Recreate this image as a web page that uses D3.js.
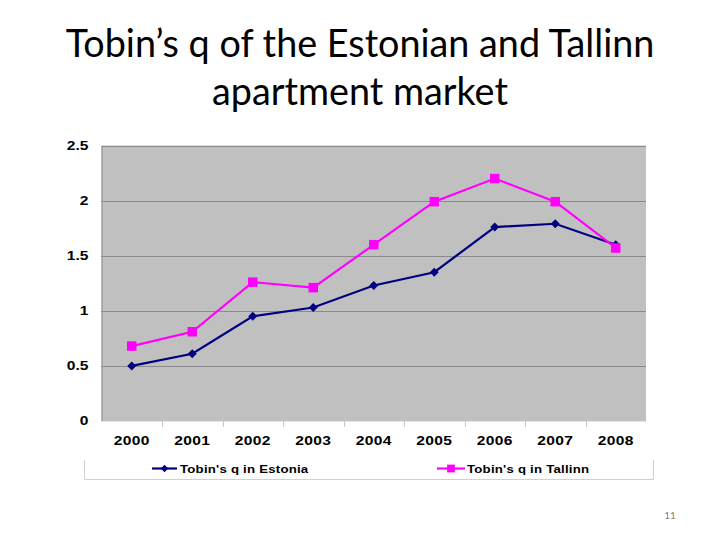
<!DOCTYPE html>
<html>
<head>
<meta charset="utf-8">
<script src="https://cdn.jsdelivr.net/npm/d3@7"></script>
<style>
  html, body { margin: 0; padding: 0; background: #fff; }
  svg { display: block; }
</style>
</head>
<body>
<svg id="chart" width="720" height="540"></svg>
<script>
const titleLines = ["Tobin\u2019s q of the Estonian and Tallinn", "apartment market"];
const years = ["2000","2001","2002","2003","2004","2005","2006","2007","2008"];
const estonia = [0.50, 0.61, 0.95, 1.03, 1.23, 1.35, 1.76, 1.79, 1.60];
const tallinn = [0.68, 0.81, 1.26, 1.21, 1.60, 1.99, 2.20, 1.99, 1.57];
const yTicks = [0, 0.5, 1, 1.5, 2, 2.5];
const seriesNames = ["Tobin's q in Estonia", "Tobin's q in Tallinn"];
const pageNumber = "11";

const svg = d3.select("#chart");
const plot = { left: 101.5, right: 646, top: 145.5, bottom: 421 };
const axisFont = "'Liberation Sans', Arial, sans-serif";
const stretch = 1.3;

// Title
const title = svg.append("g");
titleLines.forEach((t, i) => {
  title.append("text")
    .attr("x", 360).attr("y", 57 + i * 48)
    .attr("text-anchor", "middle")
    .attr("font-family", "Lato, 'Open Sans', sans-serif")
    .attr("font-size", 36)
    .attr("fill", "#000")
    .text(t);
});
const t0 = title.select("text").node();
const w0 = t0.getComputedTextLength();
title.selectAll("text").attr("font-size", 36 * 589 / w0);

const x = d3.scaleBand().domain(years).range([plot.left, plot.right]).padding(0);
const y = d3.scaleLinear().domain([0, 2.5]).range([plot.bottom, plot.top]);
const cx = d => x(d) + x.bandwidth() / 2;

// plot background
svg.append("rect")
  .attr("x", plot.left).attr("y", plot.top)
  .attr("width", plot.right - plot.left).attr("height", plot.bottom - plot.top)
  .attr("fill", "#c0c0c0");

// gridlines
svg.append("g").selectAll("line").data(yTicks.filter(v => v > 0)).join("line")
  .attr("x1", plot.left).attr("x2", plot.right)
  .attr("y1", d => Math.round(y(d)) + 0.5).attr("y2", d => Math.round(y(d)) + 0.5)
  .attr("stroke", "#8a8a8a").attr("stroke-width", 1);

// y axis
const yAxis = svg.append("g")
  .attr("transform", `translate(${plot.left},0)`)
  .call(d3.axisLeft(y).tickValues(yTicks).tickSize(0).tickPadding(0).tickFormat(d => d3.format("")(d)));
yAxis.select(".domain").attr("stroke", "#8a8a8a");
yAxis.selectAll("text")
  .attr("x", -13 / stretch)
  .attr("transform", `scale(${stretch},1)`)
  .attr("font-family", axisFont)
  .attr("font-weight", "bold").attr("font-size", 12)
  .attr("fill", "#000");

// x axis
const xAxis = svg.append("g")
  .attr("transform", `translate(0,${plot.bottom})`)
  .call(d3.axisBottom(x).tickSize(0).tickPadding(0));
xAxis.select(".domain").attr("stroke", "#e6e6e6");
xAxis.selectAll("text")
  .attr("y", 24).attr("dy", null)
  .attr("transform", `scale(${stretch},1)`)
  .attr("font-family", axisFont)
  .attr("font-weight", "bold").attr("font-size", 12)
  .attr("letter-spacing", 0.3)
  .attr("fill", "#000");
svg.append("g").selectAll("line").data(years.slice(1)).join("line")
  .attr("x1", d => Math.round(x(d)) + 0.5).attr("x2", d => Math.round(x(d)) + 0.5)
  .attr("y1", plot.bottom).attr("y2", plot.bottom + 6)
  .attr("stroke", "#c8c8c8");

// lines
const series = [
  { name: seriesNames[0], values: estonia, color: "#000080", marker: "diamond" },
  { name: seriesNames[1], values: tallinn, color: "#ff00ff", marker: "square" }
];
const line = d3.line().x((d, i) => cx(years[i])).y(d => y(d));
const diamond = d3.symbol().type(d3.symbolDiamond2).size(52);
const square = d3.symbol().type(d3.symbolSquare).size(90);

series.forEach(s => {
  svg.append("path").datum(s.values)
    .attr("d", line).attr("fill", "none")
    .attr("stroke", s.color).attr("stroke-width", 2.2);
});
series.forEach(s => {
  svg.append("g").selectAll("path").data(s.values).join("path")
    .attr("transform", (d, i) => `translate(${cx(years[i])},${y(d)})`)
    .attr("d", s.marker === "diamond" ? diamond() : square())
    .attr("fill", s.color);
});

// legend
const lg = svg.append("g");
lg.append("path").attr("d", "M84.5,460 V479.5 H653.5 V460")
  .attr("fill", "none").attr("stroke", "#d0d0d0");
const legendPos = [{ lx: 152, tx: 180 }, { lx: 437, tx: 467 }];
series.forEach((s, i) => {
  const p = legendPos[i];
  const lw = s.marker === "diamond" ? 25 : 28;
  lg.append("line").attr("x1", p.lx).attr("x2", p.lx + lw)
    .attr("y1", 468.5).attr("y2", 468.5)
    .attr("stroke", s.color).attr("stroke-width", 2.2);
  lg.append("path")
    .attr("transform", `translate(${p.lx + lw / 2},468.5)`)
    .attr("d", s.marker === "diamond" ? d3.symbol().type(d3.symbolDiamond2).size(36)() : d3.symbol().type(d3.symbolSquare).size(60)())
    .attr("fill", s.color);
  lg.append("text")
    .attr("transform", `translate(${p.tx},472.5) scale(1.2,1)`)
    .attr("font-family", axisFont)
    .attr("font-weight", "bold").attr("font-size", 11)
    .attr("letter-spacing", 0.2)
    .attr("fill", "#000").text(s.name);
});

// page number
svg.append("text").attr("x", 670).attr("y", 519)
  .attr("text-anchor", "middle")
  .attr("font-family", "Lato, sans-serif").attr("font-size", 10)
  .attr("fill", "#7f7f7f").text(pageNumber);
</script>
</body>
</html>
